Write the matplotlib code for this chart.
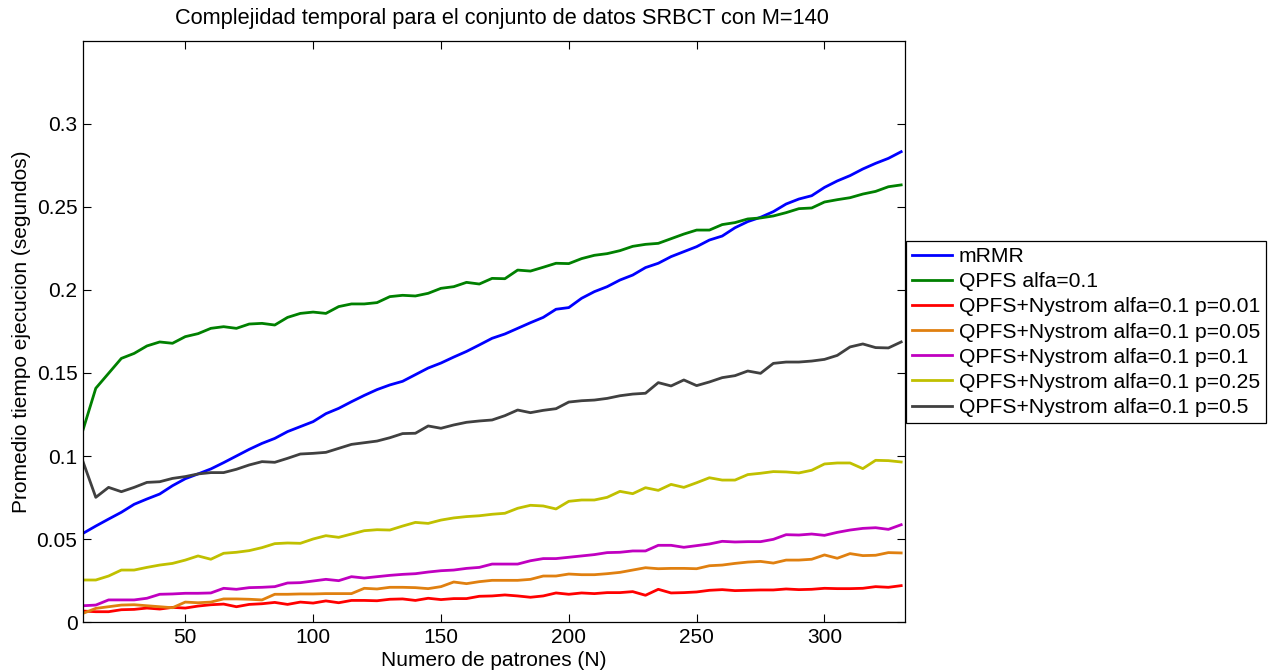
import numpy as np
import matplotlib
matplotlib.use("Agg")
import matplotlib.pyplot as plt

n_patrones = [10, 15, 20, 25, 30, 35, 40, 45, 50, 55, 60, 65, 70, 75, 80, 85,
              90, 95, 100, 105, 110, 115, 120, 125, 130, 135, 140, 145, 150,
              155, 160, 165, 170, 175, 180, 185, 190, 195, 200, 205, 210, 215,
              220, 225, 230, 235, 240, 245, 250, 255, 260, 265, 270, 275, 280,
              285, 290, 295, 300, 305, 310, 315, 320, 325, 330]

mrmr = [.0534, .0578, .062, .0661, .0709, .0741, .0771, .0821, .0863, .0892,
        .0922, .096, .1, .104, .1076, .1106, .1147, .1177, .1207, .1255,
        .1287, .1327, .1365, .14, .1428, .145, .149, .153, .156, .1596,
        .163, .1669, .1709, .1735, .1769, .1803, .1835, .1884, .1894, .195,
        .199, .202, .206, .209, .2135, .2161, .2201, .2231, .2261, .2301,
        .2325, .2375, .2412, .2438, .2472, .2518, .2548, .2568, .2618, .2657,
        .2689, .2729, .2763, .2793, .2833]

qpfs = [.1157, .1408, .1498, .1588, .1618, .1663, .1687, .1679, .1719, .1737,
        .1769, .1779, .1769, .1795, .1799, .1789, .1835, .1859, .1867, .1859,
        .19, .1916, .1916, .1924, .196, .1968, .1964, .198, .201, .202,
        .2046, .2036, .207, .2068, .212, .2114, .2137, .2161, .2159, .2189,
        .2209, .2219, .2237, .2263, .2275, .2281, .2309, .2337, .2361, .2361,
        .2394, .2406, .2428, .2434, .2446, .2466, .249, .2494, .253, .2544,
        .2556, .2578, .2594, .2622, .2633]

nys_001 = [.0066, .0062, .0062, .0074, .0076, .0084, .0078, .0088, .0084, .0096,
           .0104, .0108, .0092, .0106, .011, .0118, .0106, .012, .0114, .0127,
           .0116, .013, .013, .0128, .0137, .0139, .013, .0143, .0135, .0141,
           .0141, .0155, .0157, .0163, .0157, .0149, .0157, .0175, .0167, .0175,
           .0171, .0177, .0177, .0183, .0161, .0197, .0175, .0177, .0181, .0191,
           .0195, .0189, .0191, .0193, .0193, .0199, .0195, .0197, .0203, .0201,
           .0201, .0203, .0213, .0209, .0219]

nys_005 = [.0052, .0082, .0092, .0102, .0104, .0098, .0092, .0086, .012, .0116,
           .012, .0139, .0139, .0137, .0133, .0167, .0167, .0169, .0169, .0171,
           .0171, .0171, .0203, .0199, .0209, .0209, .0207, .0201, .0213, .0241,
           .0231, .0243, .0251, .0251, .0251, .0257, .0277, .0277, .0289, .0285,
           .0285, .0291, .0299, .0313, .0327, .0321, .0323, .0323, .0321, .0339,
           .0343, .0353, .0361, .0365, .0355, .0373, .0373, .0378, .0404, .0384,
           .0412, .04, .0402, .0418, .0416]

nys_01 = [.0098, .0102, .0133, .0133, .0133, .0143, .0167, .0169, .0173, .0173,
          .0175, .0203, .0197, .0207, .0209, .0213, .0235, .0237, .0247, .0257,
          .0249, .0273, .0265, .0273, .0281, .0287, .0291, .0301, .0309, .0313,
          .0323, .0329, .0349, .0349, .0349, .0369, .0382, .0382, .039, .0398,
          .0406, .0418, .042, .0428, .0428, .0462, .0462, .045, .046, .047,
          .0486, .0482, .0484, .0484, .0498, .0526, .0524, .053, .0522, .054,
          .0554, .0564, .0568, .0558, .0586]

nys_025 = [.0253, .0253, .0277, .0313, .0313, .0329, .0343, .0353, .0373, .0398,
           .0378, .0414, .042, .043, .0448, .0472, .0476, .0474, .05, .052,
           .051, .053, .055, .0556, .0554, .0578, .06, .0594, .0614, .0627,
           .0635, .064, .0649, .0655, .0685, .0703, .0699, .0681, .0727, .0735,
           .0735, .0751, .0787, .0773, .0809, .0793, .0829, .0811, .0839, .0869,
           .0855, .0855, .0888, .0896, .0906, .0904, .0898, .0914, .0952, .0958,
           .0958, .0924, .0974, .0972, .0964]

nys_05 = [.0966, .0751, .0811, .0785, .0811, .0841, .0845, .0865, .0876, .0892,
          .09, .09, .092, .0946, .0966, .0962, .0986, .1012, .1016, .1022,
          .1046, .107, .108, .109, .111, .1135, .1137, .1181, .1167, .1187,
          .1203, .1211, .1217, .1243, .1277, .1261, .1275, .1285, .1325, .1333,
          .1337, .1347, .1363, .1373, .1378, .1442, .1422, .1458, .1424, .1446,
          .1472, .1484, .1512, .1498, .1558, .1566, .1566, .1572, .1582, .1606,
          .1657, .1675, .1653, .1651, .1687]

etiquetas = ["mRMR", "QPFS alfa=0.1",
             "QPFS+Nystrom alfa=0.1 p=0.01", "QPFS+Nystrom alfa=0.1 p=0.05",
             "QPFS+Nystrom alfa=0.1 p=0.1", "QPFS+Nystrom alfa=0.1 p=0.25",
             "QPFS+Nystrom alfa=0.1 p=0.5"]
colores = ["#0000ff", "#008000", "#ff0000", "#e08010", "#c000c0", "#c0c000", "#404040"]

y_ticks = [0, 0.05, 0.1, 0.15, 0.2, 0.25, 0.3]
y_tick_labels = ["0", "0.05", "0.1", "0.15", "0.2", "0.25", "0.3"]
x_ticks = [50, 100, 150, 200, 250, 300]


def main():
    plt.rcParams["font.family"] = ["Liberation Sans", "DejaVu Sans"]
    plt.rcParams["font.size"] = 15

    fig = plt.figure(figsize=(12.77, 6.72), dpi=100)
    ax = fig.add_axes([0.065, 0.0744, 0.6437, 0.8646])

    series = [mrmr, qpfs, nys_001, nys_005, nys_01, nys_025, nys_05]
    for ys, lab, col in zip(series, etiquetas, colores):
        ax.plot(n_patrones, ys, color=col, linewidth=2.0, label=lab)

    ax.set_xlim(10, 331.5)
    ax.set_ylim(0, 0.35)
    ax.set_xticks(x_ticks)
    ax.set_yticks(y_ticks)
    ax.set_yticklabels(y_tick_labels)
    ax.tick_params(direction="in", length=6, width=0.8, top=True, right=True,
                   labelsize=15, pad=4)
    for sp in ax.spines.values():
        sp.set_linewidth(0.9)

    ax.set_title("Complejidad temporal para el conjunto de datos SRBCT con M=140",
                 fontsize=15.7, pad=12, x=0.51)
    ax.set_xlabel("Numero de patrones (N)", fontsize=15, labelpad=3)
    ax.set_ylabel("Promedio tiempo ejecucion (segundos)", fontsize=15, labelpad=4)

    leg = ax.legend(loc="upper left", bbox_to_anchor=(1.001, 0.656),
                    borderaxespad=0, fontsize=15.2, handlelength=1.9,
                    handletextpad=0.3, labelspacing=0.29, borderpad=0.3,
                    fancybox=False, framealpha=1, edgecolor="black")
    leg.get_frame().set_linewidth(0.9)

    fig.savefig("out.png", dpi=100)


if __name__ == '__main__':
    main()
